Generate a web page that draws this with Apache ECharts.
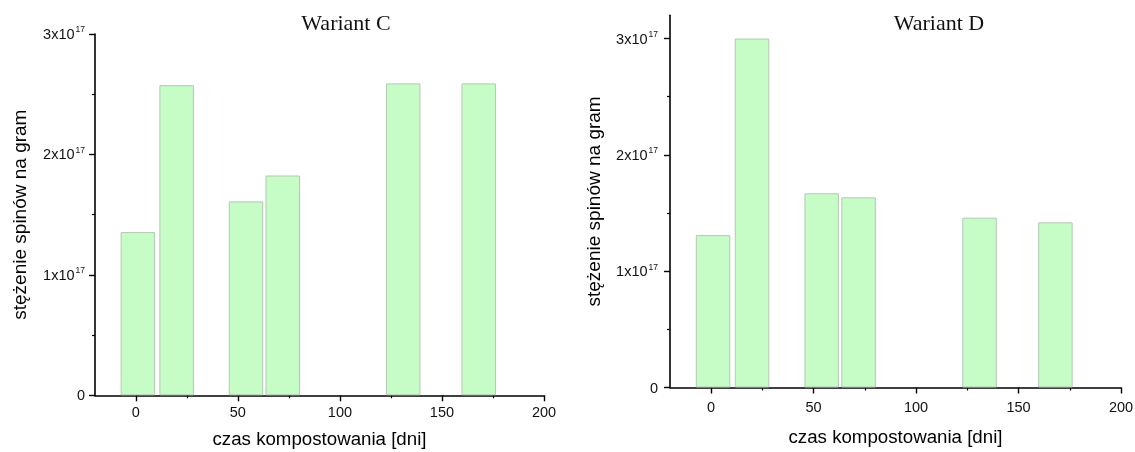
<!DOCTYPE html>
<html>
<head>
<meta charset="utf-8">
<title>Wariant C / Wariant D</title>
<script src="https://cdn.jsdelivr.net/npm/echarts@6/dist/echarts.min.js"></script>
<style>
  html, body { margin: 0; padding: 0; background: #fff; }
  #chart { width: 1135px; height: 452px; }
</style>
</head>
<body>
<div id="chart"></div>
<script>
// Sampling days (composting time) and spin concentration per gram
const days = [1, 20, 54, 72, 131, 168];
const spinsC = [1.355e17, 2.575e17, 1.61e17, 1.825e17, 2.59e17, 2.59e17];
const spinsD = [1.31e17, 3.0e17, 1.67e17, 1.635e17, 1.46e17, 1.42e17];

// Tick positions
const xMajorTicks = [0, 50, 100, 150, 200];
const xMinorTicks = [25, 75, 125, 175];
const yMajorTicks = [0, 1e17, 2e17, 3e17];
const yMinorTicks = [0.5e17, 1.5e17, 2.5e17];

const titles = ['Wariant C', 'Wariant D'];
const xName = 'czas kompostowania [dni]';
const yName = 'stężenie spinów na gram';

const SANS = '"Liberation Sans", Arial, sans-serif';
const SERIF = '"Liberation Serif", "Times New Roman", serif';
const INK = '#000';
const LABEL = '#111';

const panels = [
  { grid: { left: 95, top: 34, width: 449, height: 361.3 }, yMax: 3e17,
    title: { center: 341, top: 8 }, xLabelMargin: 10, xNameGap: 35, yNameGap: 65, yLabelMargin: 10 },
  { grid: { left: 670, top: 15.3, width: 451, height: 372.2 }, yMax: 3.2e17,
    title: { center: 934, top: 8 }, xLabelMargin: 13, xNameGap: 41, yNameGap: 66, yLabelMargin: 12 }
];
const seriesData = [spinsC, spinsD];

function yLabel(v) {
  if (v === 0) return '{b|0}';
  return '{b|' + Math.round(v / 1e17) + 'x10}{sup|17}';
}

const grid = [], xAxis = [], yAxis = [], series = [], title = [];

panels.forEach((p, i) => {
  grid.push(Object.assign({ containLabel: false, outerBoundsMode: 'none' }, p.grid));

  title.push({
    text: titles[i],
    left: p.title.center,
    top: p.title.top,
    textAlign: 'center',
    textStyle: { fontFamily: SERIF, fontSize: 22, fontWeight: 'normal', color: '#111' }
  });

  // main x axis
  xAxis.push({
    type: 'value', gridIndex: i, position: 'bottom', min: -20, max: 200,
    name: xName, nameLocation: 'middle', nameGap: p.xNameGap,
    nameTextStyle: { fontFamily: SANS, fontSize: 18.7, color: INK },
    axisLine: { show: true, onZero: false, lineStyle: { color: INK, width: 1.6 } },
    axisTick: { show: true, inside: false, length: 6, customValues: xMajorTicks,
                lineStyle: { color: INK, width: 1.4 } },
    axisLabel: { customValues: xMajorTicks, margin: p.xLabelMargin,
                 fontFamily: SANS, fontSize: 14.5, color: LABEL },
    splitLine: { show: false }
  });
  // minor x ticks
  xAxis.push({
    type: 'value', gridIndex: i, position: 'bottom', min: -20, max: 200,
    axisLine: { show: false, onZero: false },
    axisTick: { show: true, length: 3, customValues: xMinorTicks,
                lineStyle: { color: INK, width: 1.2 } },
    axisLabel: { show: false },
    splitLine: { show: false }
  });

  // main y axis
  yAxis.push({
    type: 'value', gridIndex: i, position: 'left', min: 0, max: p.yMax,
    name: yName, nameLocation: 'middle', nameGap: p.yNameGap, nameRotate: 90,
    nameTextStyle: { fontFamily: SANS, fontSize: 19, color: INK },
    axisLine: { show: true, onZero: false, lineStyle: { color: INK, width: 1.6 } },
    axisTick: { show: true, length: 6, customValues: yMajorTicks,
                lineStyle: { color: INK, width: 1.4 } },
    axisLabel: {
      customValues: yMajorTicks, margin: p.yLabelMargin,
      formatter: yLabel,
      rich: {
        b: { fontFamily: SANS, fontSize: 14.5, color: LABEL, lineHeight: 17, verticalAlign: 'bottom' },
        sup: { fontFamily: SANS, fontSize: 8.5, color: LABEL, lineHeight: 17, verticalAlign: 'top', padding: [0, 0, 6, 1] }
      }
    },
    splitLine: { show: false }
  });
  // minor y ticks
  yAxis.push({
    type: 'value', gridIndex: i, position: 'left', min: 0, max: p.yMax,
    axisLine: { show: false, onZero: false },
    axisTick: { show: true, length: 3, customValues: yMinorTicks,
                lineStyle: { color: INK, width: 1.2 } },
    axisLabel: { show: false },
    splitLine: { show: false }
  });

  series.push({
    type: 'bar',
    xAxisIndex: i * 2,
    yAxisIndex: i * 2,
    barWidth: 34.5,
    data: days.map((d, k) => [d, seriesData[i][k]]),
    itemStyle: { color: '#c6fcc6', borderColor: '#b4c8b4', borderWidth: 1 },
    emphasis: { disabled: true },
    silent: true
  });
});

const chart = echarts.init(document.getElementById('chart'), null, { renderer: 'canvas' });
chart.setOption({
  animation: false,
  backgroundColor: '#fff',
  title, grid, xAxis, yAxis, series
});
</script>
</body>
</html>
